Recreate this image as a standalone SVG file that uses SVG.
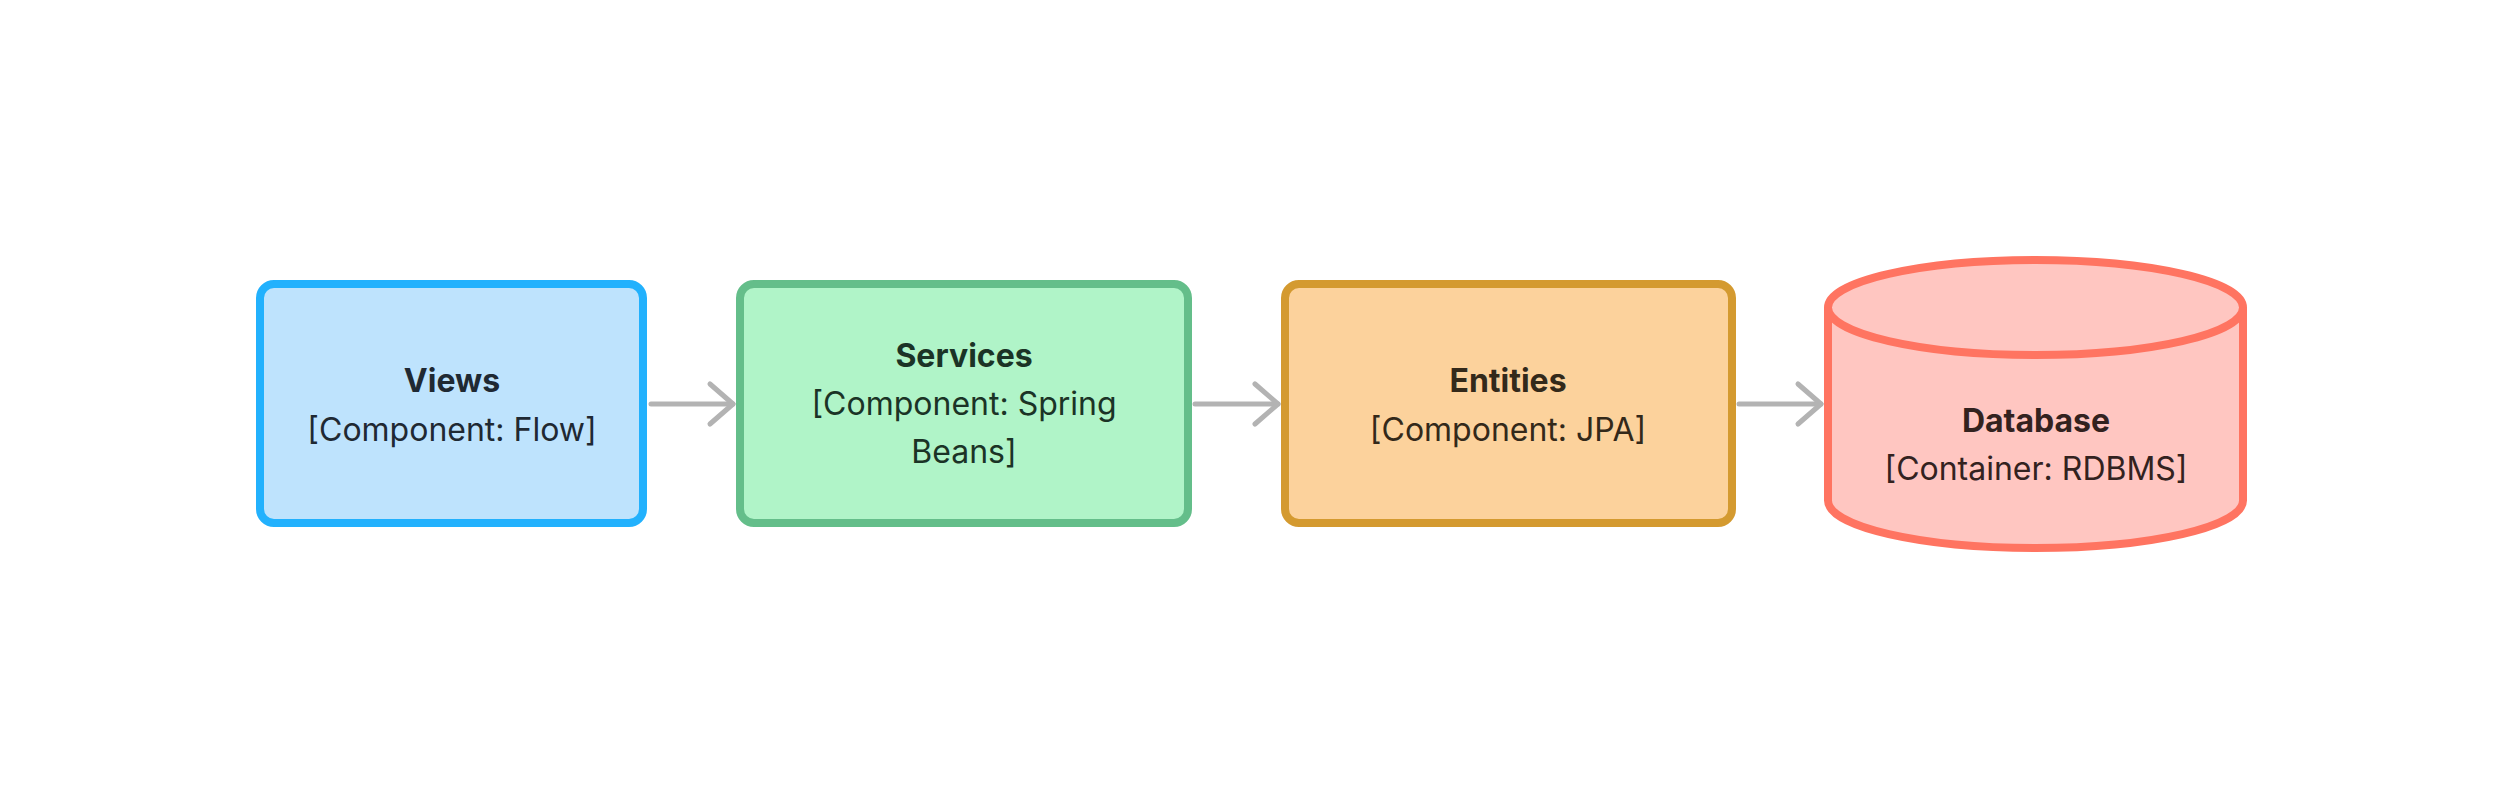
<svg xmlns="http://www.w3.org/2000/svg" width="2504" height="808" viewBox="0 0 2504 808">
<style>
.t{font-family:Inter,"Noto Sans","Liberation Sans",sans-serif;font-size:32px;text-anchor:middle}
.b{font-weight:700}
.box{stroke-width:8}
.edge{fill:none;stroke:#b3b3b3;stroke-width:5;stroke-linecap:round;stroke-linejoin:round}
</style>
<defs>
<marker id="arr" markerUnits="userSpaceOnUse" markerWidth="40" markerHeight="50" refX="30" refY="25" orient="auto" viewBox="0 0 40 50">
<path d="M7,5 L30,25 L7,45" fill="none" stroke="#b3b3b3" stroke-width="5" stroke-linecap="round" stroke-linejoin="round"/>
</marker>
</defs>
<rect width="2504" height="808" fill="#ffffff"/>
<g id="connectors">
<path class="edge" d="M651,404 H733" marker-end="url(#arr)"/>
<path class="edge" d="M1195,404 H1278" marker-end="url(#arr)"/>
<path class="edge" d="M1739,404 H1821" marker-end="url(#arr)"/>
</g>
<g id="views">
<rect class="box" x="260" y="284" width="383" height="239" rx="14" fill="#bee3fd" stroke="#22b1fd"/>
<text class="t b" x="452" y="392" fill="#1f2933">Views</text>
<text class="t" x="452" y="441" fill="#1f2933">[Component: Flow]</text>
</g>
<g id="services">
<rect class="box" x="740" y="284" width="448" height="239" rx="14" fill="#b0f4c8" stroke="#64be8a"/>
<text class="t b" x="964" y="367" fill="#1b3326">Services</text>
<text class="t" x="964" y="415" fill="#1b3326">[Component: Spring</text>
<text class="t" x="964" y="463" fill="#1b3326">Beans]</text>
</g>
<g id="entities">
<rect class="box" x="1285" y="284" width="447" height="239" rx="14" fill="#fcd29c" stroke="#d49a30"/>
<text class="t b" x="1508" y="392" fill="#33291a">Entities</text>
<text class="t" x="1508" y="441" fill="#33291a">[Component: JPA]</text>
</g>
<g id="database">
<path class="box" d="M1828,307.5 V500.5 A207.5,47.5 0 0 0 2243,500.5 V307.5 A207.5,47.5 0 0 0 1828,307.5 Z" fill="#ffc6c1" stroke="#ff7461"/>
<path class="box" d="M1828,307.5 A207.5,47.5 0 0 0 2243,307.5" fill="none" stroke="#ff7461"/>
<text class="t b" x="2036" y="432" fill="#33221f">Database</text>
<text class="t" x="2036" y="480" fill="#33221f">[Container: RDBMS]</text>
</g>
</svg>
